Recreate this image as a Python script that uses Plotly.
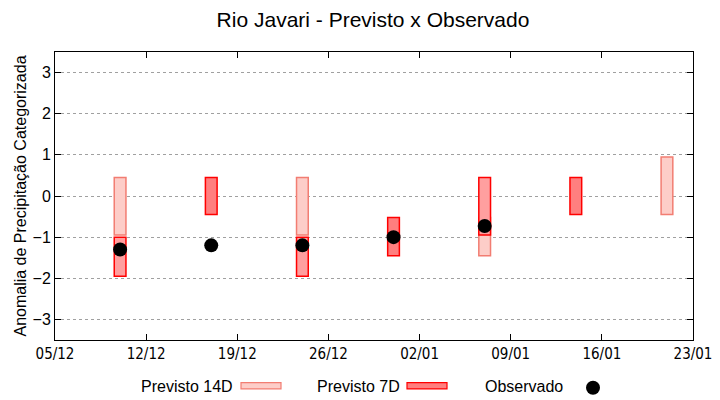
import plotly.graph_objects as go

# ---- data ----
dates_14d = ["2023-12-10", "2023-12-24", "2024-01-07", "2024-01-21"]
low_14d = [-0.95, -0.95, -1.45, -0.45]
high_14d = [0.45, 0.45, -0.52, 0.95]

dates_7d = ["2023-12-10", "2023-12-17", "2023-12-24", "2023-12-31", "2024-01-07", "2024-01-14"]
low_7d = [-1.95, -0.45, -1.95, -1.45, -0.95, -0.45]
high_7d = [-1.0, 0.45, -1.0, -0.52, 0.45, 0.45]
fill_7d = ["#FF9F9F", "#FF7F7F", "#FF9F9F", "#FF7F7F", "#FF9F9F", "#FF7F7F"]

dates_obs = ["2023-12-10", "2023-12-17", "2023-12-24", "2023-12-31", "2024-01-07"]
val_obs = [-1.3, -1.2, -1.2, -1.0, -0.73]

tick_dates = ["2023-12-05", "2023-12-12", "2023-12-19", "2023-12-26",
              "2024-01-02", "2024-01-09", "2024-01-16", "2024-01-23"]
tick_labels = ["05/12", "12/12", "19/12", "26/12", "02/01", "09/01", "16/01", "23/01"]
y_ticks = [3, 2, 1, 0, -1, -2, -3]

DAY = 86400000
FONT = "Liberation Sans"
NARROW = "Liberation Sans Narrow, DejaVu Sans Condensed, Liberation Sans"

fig = go.Figure()
fig.add_trace(go.Bar(
    x=dates_14d, y=[h - l for h, l in zip(high_14d, low_14d)], base=low_14d,
    width=[0.9 * DAY] * len(dates_14d),
    marker=dict(color="#FDCDC8", line=dict(color="#F27D72", width=1.5)),
    name="Previsto 14D", showlegend=False,
))
fig.add_trace(go.Bar(
    x=dates_7d, y=[h - l for h, l in zip(high_7d, low_7d)], base=low_7d,
    width=[0.9 * DAY] * len(dates_7d),
    marker=dict(color=fill_7d, line=dict(color="#FF0000", width=1.5)),
    name="Previsto 7D", showlegend=False,
))
fig.add_trace(go.Scatter(
    x=dates_obs, y=val_obs, mode="markers",
    marker=dict(color="black", size=14),
    name="Observado", showlegend=False,
))

fig.update_layout(
    width=720, height=400,
    margin=dict(l=55, r=27, t=52, b=60, autoexpand=False),
    plot_bgcolor="white", paper_bgcolor="white",
    barmode="overlay",
    font=dict(family=FONT, size=16, color="black"),
    title=dict(text="Rio Javari - Previsto x Observado", x=(373 / 720), xref="container",
               xanchor="center", y=1 - 20 / 400, yref="container", yanchor="middle",
               font=dict(family=FONT, size=21, color="black")),
    xaxis=dict(
        type="date", range=["2023-12-05", "2024-01-23"],
        tickvals=tick_dates, ticktext=tick_labels,
        ticks="inside", ticklen=6, tickcolor="black",
        showline=True, linecolor="black", linewidth=1, mirror="ticks",
        showgrid=False, zeroline=False, automargin=False,
        tickfont=dict(family=NARROW, size=15),
    ),
    yaxis=dict(
        range=[-3.5, 3.5], tickvals=y_ticks,
        ticks="inside", ticklen=6, tickcolor="black",
        showline=True, linecolor="black", linewidth=1, mirror="ticks",
        showgrid=True, gridcolor="#A0A0A0", griddash="dot", gridwidth=1,
        zeroline=False, automargin=False,
        tickfont=dict(family=FONT, size=16),
        title=dict(text="Anomalia de Precipitação Categorizada", standoff=1,
                   font=dict(family=FONT, size=16)),
    ),
)

# ---- manual legend (text left of symbol) ----
ly = -46 / 288
fig.add_annotation(text="Previsto 14D", xref="paper", yref="paper", x=(235 - 55) / 638, y=ly,
                   xanchor="right", yanchor="middle", showarrow=False, font=dict(size=16))
fig.add_shape(type="rect", xref="paper", yref="paper",
              x0=(241 - 55) / 638, x1=(281 - 55) / 638, y0=ly - 0.010, y1=ly + 0.012,
              fillcolor="#FDCDC8", line=dict(color="#F27D72", width=1.2))
fig.add_annotation(text="Previsto 7D", xref="paper", yref="paper", x=(402 - 55) / 638, y=ly,
                   xanchor="right", yanchor="middle", showarrow=False, font=dict(size=16))
fig.add_shape(type="rect", xref="paper", yref="paper",
              x0=(407 - 55) / 638, x1=(447 - 55) / 638, y0=ly - 0.010, y1=ly + 0.012,
              fillcolor="#FF7F7F", line=dict(color="#FF0000", width=1.2))
fig.add_annotation(text="Observado", xref="paper", yref="paper", x=(565 - 55) / 638, y=ly,
                   xanchor="right", yanchor="middle", showarrow=False, font=dict(size=16))
fig.add_shape(type="circle", xref="paper", yref="paper",
              x0=(586 - 55) / 638, x1=(600 - 55) / 638, y0=ly - 7 / 288 - 0.006, y1=ly + 7 / 288 - 0.006,
              fillcolor="black", line=dict(color="black", width=0))

fig.write_html("out.html", config={"displayModeBar": False},
               post_script="document.body.style.margin='0px';")
